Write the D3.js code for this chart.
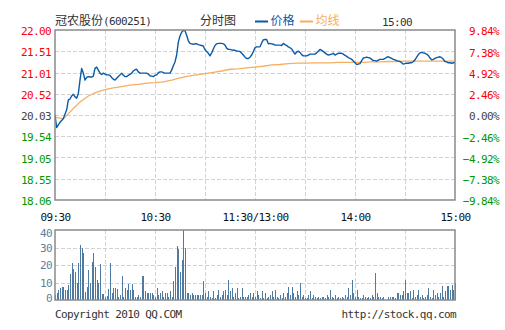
<!DOCTYPE html>
<html>
<head>
<meta charset="utf-8">
<script src="https://cdn.jsdelivr.net/npm/d3@7"></script>
<style>
  html, body { margin: 0; padding: 0; background: #fff; }
  svg { display: block; }
  .mono { font-family: "DejaVu Sans Mono", monospace; font-size: 11px; letter-spacing: -0.6px; }
  .cjk { font-family: "Noto Sans CJK SC", sans-serif; font-size: 12px; }
</style>
</head>
<body>
<svg id="chart" width="505" height="330"></svg>
<script>
// ---- data ----
const stockName = "冠农股份";
const stockCode = "600251";
const prevClose = 20.03;

const timeLabels = ["09:30", "10:30", "11:30/13:00", "14:00", "15:00"];
const timeIndex = [0, 60, 120, 180, 240];           // minute of session
const gridMinutes = [30, 60, 90, 120, 150, 180, 210];

const priceTicks = [22.00, 21.51, 21.01, 20.52, 20.03, 19.54, 19.05, 18.55, 18.06];
const pctTicks = [9.84, 7.38, 4.92, 2.46, 0, -2.46, -4.92, -7.38, -9.84];
const volTicks = [0, 10, 20, 30, 40];

// last price, one value per minute (241 minutes)
const price = [
  20.03, 19.74, 19.80, 19.86, 19.90, 19.95, 20.05, 20.15, 20.38, 20.40,
  20.47, 20.51, 20.45, 20.42, 20.53, 20.84, 21.11, 21.00, 20.84, 20.90,
  20.92, 20.91, 20.91, 20.93, 21.11, 21.14, 21.07, 21.00, 20.97, 21.00,
  20.98, 20.96, 20.96, 20.95, 20.90, 20.86, 20.84, 20.88, 20.92, 20.96,
  21.00, 20.95, 20.92, 20.92, 20.95, 20.97, 21.00, 21.05, 21.08, 21.09,
  21.03, 21.00, 21.00, 21.00, 21.00, 21.00, 20.98, 20.94, 20.93, 20.92,
  20.95, 20.96, 21.01, 21.03, 21.03, 21.01, 21.00, 21.00, 21.00, 21.00,
  21.07, 21.17, 21.26, 21.42, 21.72, 21.86, 21.95, 21.99, 21.98, 21.88,
  21.75, 21.69, 21.68, 21.67, 21.68, 21.68, 21.66, 21.65, 21.64, 21.63,
  21.54, 21.50, 21.46, 21.40, 21.47, 21.56, 21.64, 21.68, 21.69, 21.69,
  21.69, 21.68, 21.65, 21.58, 21.55, 21.55, 21.54, 21.53, 21.53, 21.51,
  21.51, 21.50, 21.46, 21.42, 21.37, 21.34, 21.34, 21.37, 21.42, 21.50,
  21.59, 21.61, 21.61, 21.61, 21.70, 21.77, 21.78, 21.78, 21.68, 21.69,
  21.68, 21.67, 21.65, 21.65, 21.65, 21.65, 21.64, 21.69, 21.66, 21.64,
  21.61, 21.59, 21.56, 21.50, 21.44, 21.49, 21.51, 21.48, 21.43, 21.40,
  21.40, 21.40, 21.42, 21.44, 21.44, 21.44, 21.44, 21.47, 21.51, 21.55,
  21.53, 21.50, 21.47, 21.44, 21.42, 21.43, 21.44, 21.46, 21.42, 21.44,
  21.46, 21.46, 21.46, 21.44, 21.41, 21.39, 21.36, 21.34, 21.32, 21.28,
  21.24, 21.20, 21.21, 21.22, 21.29, 21.35, 21.36, 21.37, 21.36, 21.35,
  21.32, 21.29, 21.29, 21.28, 21.30, 21.32, 21.32, 21.32, 21.34, 21.37,
  21.38, 21.36, 21.34, 21.32, 21.31, 21.29, 21.28, 21.27, 21.24, 21.21,
  21.22, 21.23, 21.23, 21.24, 21.24, 21.27, 21.31, 21.37, 21.43, 21.47,
  21.48, 21.47, 21.46, 21.44, 21.41, 21.35, 21.31, 21.32, 21.34, 21.36,
  21.37, 21.38, 21.36, 21.32, 21.27, 21.26, 21.24, 21.24, 21.23, 21.24,
  21.24
];

// average price, one value every 5 minutes
const avgStep = 5;
const avgPrice = [
  19.98, 19.94, 20.14, 20.33, 20.47, 20.56, 20.62, 20.66, 20.69, 20.72,
  20.74, 20.77, 20.78, 20.80, 20.84, 20.89, 20.93, 20.96, 20.99, 21.02,
  21.05, 21.09, 21.10, 21.12, 21.14, 21.16, 21.19, 21.20, 21.22, 21.23,
  21.23, 21.24, 21.24, 21.24, 21.25, 21.25, 21.25, 21.25, 21.26, 21.26,
  21.27, 21.27, 21.28, 21.28, 21.28, 21.28, 21.28, 21.28, 21.28
];

// volume per minute (241 minutes)
const volume = [
  3, 4, 5.5, 7, 7.5, 7.5, 6, 6, 8.5, 15,
  21, 18, 16, 10, 21, 31.5, 30, 27, 4.5, 7.5,
  17, 10, 22, 27, 19, 11.5, 10, 20.5, 3.5, 3.5,
  1.5, 2.5, 6.5, 21, 4, 7, 7, 6.5, 2, 3,
  14, 2, 7, 6, 9, 6, 9, 6, 2, 2,
  3, 2, 14, 14, 5, 4, 4, 4, 4, 3,
  2, 7, 3, 4, 5, 2, 4, 4, 2, 5,
  2, 11, 19, 31, 29, 16, 23, 40, 30, 4,
  4, 3, 4, 3, 3, 3, 3, 3, 3, 11,
  4, 2, 5, 2, 1, 5, 1, 3, 6, 2,
  3, 5, 6, 3, 11.5, 5, 7, 2, 4, 7,
  1, 2, 7, 2, 2, 2, 3, 4, 2, 4,
  2, 5, 3, 1, 5, 1, 4, 1, 2, 3,
  5, 2, 6, 2, 1, 3, 1, 4, 2, 4,
  7.5, 3, 7.5, 4, 2, 5, 3, 10, 2, 3,
  1, 1, 3, 5, 1, 3, 2, 1, 2, 1,
  2, 2, 1, 3, 2, 6, 2, 1, 3, 1,
  2, 1, 2, 1, 3, 2, 7, 3, 11.5, 4,
  2, 6, 2, 1, 1, 3, 2, 1, 2, 1,
  3, 2, 15.5, 4, 2, 2, 1, 2, 0, 0,
  2, 2, 2, 2, 1, 4, 4, 3, 3, 5,
  11.5, 4, 4, 5, 1, 6, 2, 3, 6, 2,
  3, 1, 2, 3, 7, 2, 1, 6, 3, 4,
  2, 4, 8, 2, 5, 8, 8, 6, 8.5, 6,
  10
];

// ---- layout ----
const plot = { left: 55, right: 455, top: 30, bottom: 200 };
const vplot = { top: 230, bottom: 300 };
const C = {
  up: "#ff0000", down: "#009900", flat: "#444",
  text: "#333", grid: "#d2d2d2", border: "#8a8a8a",
  line: "#0b5aa8", avg: "#f5ae62", vol: "#4f7ba3", volText: "#5b80a6"
};

const svg = d3.select("#chart");

const x = d3.scaleLinear().domain([0, 240]).range([plot.left, plot.right]);
const y = d3.scaleLinear().domain([18.06, 22.00]).range([plot.bottom, plot.top]);
const yPct = d3.scaleLinear().domain([-9.84, 9.84]).range([plot.bottom, plot.top]);
const yVol = d3.scaleLinear().domain([0, 40]).range([vplot.bottom, vplot.top]);

const colorFor = v => v > prevClose + 1e-9 ? C.up : (v < prevClose - 1e-9 ? C.down : C.flat);
const pctColor = v => v > 0 ? C.up : (v < 0 ? C.down : C.flat);

// ---- gridlines ----
const grid = svg.append("g").attr("stroke", C.grid).attr("stroke-dasharray", "4,2")
  .attr("shape-rendering", "crispEdges");
grid.selectAll(".hp").data(priceTicks.slice(1, -1)).join("line")
  .attr("x1", plot.left).attr("x2", plot.right)
  .attr("y1", d => Math.round(y(d)) + 0.5).attr("y2", d => Math.round(y(d)) + 0.5);
grid.selectAll(".vp").data(gridMinutes).join("line").attr("class", "vp")
  .attr("y1", plot.top).attr("y2", plot.bottom)
  .attr("x1", d => Math.round(x(d)) + 0.5).attr("x2", d => Math.round(x(d)) + 0.5);
grid.selectAll(".hv").data(volTicks.slice(1, -1)).join("line").attr("class", "hv")
  .attr("x1", plot.left).attr("x2", plot.right)
  .attr("y1", d => Math.round(yVol(d)) + 0.5).attr("y2", d => Math.round(yVol(d)) + 0.5);
grid.selectAll(".vv").data(gridMinutes).join("line").attr("class", "vv")
  .attr("y1", vplot.top).attr("y2", vplot.bottom)
  .attr("x1", d => Math.round(x(d)) + 0.5).attr("x2", d => Math.round(x(d)) + 0.5);

// ---- clip for the price panel ----
svg.append("clipPath").attr("id", "pclip").append("rect")
  .attr("x", plot.left).attr("y", plot.top - 2)
  .attr("width", plot.right - plot.left).attr("height", plot.bottom - plot.top + 4);

// ---- average line ----
svg.append("path").datum(avgPrice)
  .attr("clip-path", "url(#pclip)")
  .attr("fill", "none").attr("stroke", C.avg).attr("stroke-width", 1.3)
  .attr("d", d3.line().x((d, i) => x(i * avgStep)).y(d => y(d)));

// ---- price line ----
svg.append("path").datum(price)
  .attr("clip-path", "url(#pclip)")
  .attr("fill", "none").attr("stroke", C.line).attr("stroke-width", 1.4)
  .attr("stroke-linejoin", "round")
  .attr("d", d3.line().x((d, i) => x(i)).y(d => y(d)));

// ---- volume bars ----
svg.append("g").attr("shape-rendering", "crispEdges").attr("fill", C.vol)
  .selectAll("rect").data(volume).join("rect")
  .attr("x", (d, i) => Math.round(x(i)))
  .attr("width", 1)
  .attr("y", d => Math.round(yVol(d)))
  .attr("height", d => vplot.bottom - Math.round(yVol(d)));

// ---- panel borders ----
svg.append("rect").attr("x", plot.left).attr("y", plot.top)
  .attr("width", plot.right - plot.left).attr("height", plot.bottom - plot.top)
  .attr("fill", "none").attr("stroke", C.border).attr("stroke-width", 1.5);
svg.append("rect").attr("x", plot.left).attr("y", vplot.top)
  .attr("width", plot.right - plot.left).attr("height", vplot.bottom - vplot.top)
  .attr("fill", "none").attr("stroke", C.border).attr("stroke-width", 1.5);

// ---- axes ----
function styleAxis(g) {
  g.attr("font-family", null).attr("font-size", null);
  g.select(".domain").remove();
  g.selectAll(".tick line").remove();
  g.selectAll("text").attr("class", "mono");
}

const leftAxis = svg.append("g").attr("transform", `translate(${plot.left},0)`)
  .call(d3.axisLeft(y).tickValues(priceTicks).tickSize(0).tickPadding(4)
    .tickFormat(d3.format(".2f")))
  .call(styleAxis);
leftAxis.selectAll("text").attr("dy", "0.44em").attr("fill", d => colorFor(d));

const rightAxis = svg.append("g").attr("transform", "translate(499,0)")
  .call(d3.axisRight(yPct).tickValues(pctTicks).tickSize(0).tickPadding(0)
    .tickFormat(d => d3.format(".2f")(d) + "%"))
  .call(styleAxis);
rightAxis.selectAll("text").attr("x", 0).attr("text-anchor", "end")
  .attr("dy", "0.44em").attr("fill", d => pctColor(d));

const timeAxis = svg.append("g").attr("transform", `translate(0,${plot.bottom})`)
  .call(d3.axisBottom(x).tickValues(timeIndex).tickSize(0).tickPadding(13)
    .tickFormat((d, i) => timeLabels[i]))
  .call(styleAxis);
timeAxis.selectAll("text").attr("fill", "#111");

const volAxis = svg.append("g").attr("transform", `translate(${plot.left},0)`)
  .call(d3.axisLeft(yVol).tickValues(volTicks).tickSize(0).tickPadding(3))
  .call(styleAxis);
volAxis.selectAll("text").attr("fill", C.volText)
  .attr("y", d => {
    const yy = yVol(d);
    return Math.max(vplot.top + 2.3, Math.min(vplot.bottom - 2.7, yy)) - yy;
  })
  .attr("dy", "0.36em");

// ---- header ----
const title = svg.append("text").attr("x", plot.left).attr("y", 25).attr("fill", C.text);
title.append("tspan").attr("class", "cjk").text(stockName);
title.append("tspan").attr("class", "mono").text(`(${stockCode})`);

svg.append("text").attr("class", "cjk").attr("x", 200).attr("y", 25)
  .attr("fill", C.text).text("分时图");

const legend = [
  { name: "价格", color: C.line, x: 255 },
  { name: "均线", color: C.avg, x: 300 }
];
const lg = svg.append("g").selectAll("g").data(legend).join("g")
  .attr("transform", d => `translate(${d.x},0)`);
lg.append("rect").attr("x", 0).attr("y", 20.5).attr("width", 13).attr("height", 2)
  .attr("fill", d => d.color);
lg.append("text").attr("class", "cjk").attr("x", 15.5).attr("y", 25)
  .attr("fill", d => d.color).text(d => d.name);

svg.append("text").attr("class", "mono").attr("x", 382).attr("y", 26)
  .attr("fill", C.text).text(timeLabels[timeLabels.length - 1]);

// ---- footer ----
svg.append("text").attr("class", "mono").attr("x", plot.left).attr("y", 318)
  .attr("fill", C.text).text("Copyright 2010 QQ.COM");
svg.append("text").attr("class", "mono").attr("x", 456).attr("y", 318)
  .attr("text-anchor", "end").attr("fill", C.text).text("http://stock.qq.com");
</script>
</body>
</html>
